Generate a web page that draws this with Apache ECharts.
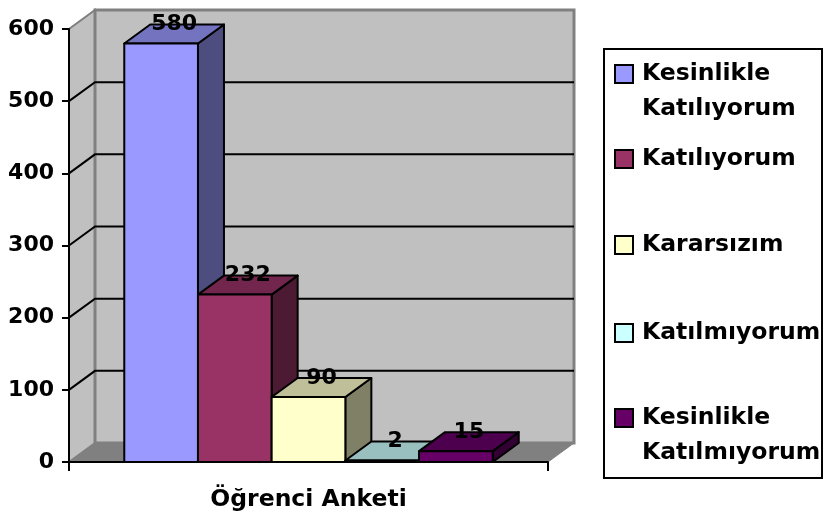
<!DOCTYPE html>
<html>
<head>
<meta charset="utf-8">
<script src="https://cdn.jsdelivr.net/npm/echarts@6/dist/echarts.min.js"></script>
<style>
html, body { margin: 0; background: #fff; }
#chart { width: 827px; height: 519px; }
</style>
</head>
<body>
<div id="chart"></div>
<script>
// data
var categories = ["Öğrenci Anketi"];
var seriesNames = ["Kesinlikle\nKatılıyorum", "Katılıyorum", "Kararsızım", "Katılmıyorum", "Kesinlikle\nKatılmıyorum"];
var seriesValues = [580, 232, 90, 2, 15];
var seriesColors = ["#9999ff", "#993366", "#ffffcc", "#ccffff", "#660066"];
var yTicks = [0, 100, 200, 300, 400, 500, 600];

// 3d depth offset of the walls and bars
var DX = 26, DY = -19;
var FONT = "DejaVu Sans";

function shade(hex, f) {
	var n = parseInt(hex.slice(1), 16);
	var r = Math.round(((n >> 16) & 255) * f), g = Math.round(((n >> 8) & 255) * f), b = Math.round((n & 255) * f);
	return "rgb(" + r + "," + g + "," + b + ")";
}

var renderWalls = function (params, api) {
	var c = api.coord([api.value(0), 0]);
	var t = api.coord([api.value(0), api.value(1)]);
	var half = api.size([1, 0])[0] / 2;
	var x0 = c[0] - half, x1 = c[0] + half, yb = c[1], yt = t[1];
	return {
		type: "group",
		children: [
			{ type: "polygon", shape: { points: [[x0, yb], [x1, yb], [x1 + DX, yb + DY], [x0 + DX, yb + DY]] },
				style: { fill: "#808080", stroke: "#808080", lineWidth: 1 } },
			{ type: "polygon", shape: { points: [[x0, yb], [x0, yt], [x0 + DX, yt + DY], [x0 + DX, yb + DY]] },
				style: { fill: "#c0c0c0", stroke: "#808080", lineWidth: 2 } },
			{ type: "rect", shape: { x: x0 + DX, y: yt + DY, width: x1 - x0, height: yb - yt },
				style: { fill: "#c0c0c0", stroke: "#808080", lineWidth: 3 } }
		]
	};
};

var renderGrid = function (params, api) {
	var p = api.coord([api.value(0), api.value(1)]);
	var half = api.size([1, 0])[0] / 2;
	var x0 = p[0] - half, x1 = p[0] + half, y = p[1];
	return {
		type: "polyline",
		shape: { points: [[x0, y], [x0 + DX, y + DY], [x1 + DX, y + DY]] },
		style: { stroke: "#000", lineWidth: 2, fill: null }
	};
};

var makeBar = function (i) {
	return function (params, api) {
		var base = api.coord([api.value(0), 0]);
		var top = api.coord([api.value(0), api.value(1)]);
		var band = api.size([1, 0])[0];
		var w = band / 6.5;
		var xl = base[0] - band / 2 + 0.75 * w + i * w, xr = xl + w;
		var yb = base[1], yt = top[1];
		var col = seriesColors[i];
		var line = { stroke: "#000", lineWidth: 2, lineJoin: "round" };
		return {
			type: "group",
			children: [
				{ type: "polygon", shape: { points: [[xr, yt], [xr + DX, yt + DY], [xr + DX, yb + DY], [xr, yb]] },
					style: Object.assign({ fill: shade(col, 0.5) }, line) },
				{ type: "polygon", shape: { points: [[xl, yt], [xr, yt], [xr + DX, yt + DY], [xl + DX, yt + DY]] },
					style: Object.assign({ fill: shade(col, 0.75) }, line) },
				{ type: "rect", shape: { x: xl, y: yt, width: w, height: yb - yt },
					style: Object.assign({ fill: col }, line) },
				{ type: "text", z2: 10, style: { text: String(api.value(1)), x: xl + w / 2 + DX / 2, y: yt + DY,
					align: "center", verticalAlign: "middle", fill: "#000",
					font: "bold 22px '" + FONT + "'" } }
			]
		};
	};
};

var legendCenters = [74, 159, 245, 333, 418];

var chart = echarts.init(document.getElementById("chart"));

var series = [
	{ type: "custom", name: "walls", silent: true, z: 1, data: [[0, yTicks[yTicks.length - 1]]], renderItem: renderWalls },
	{ type: "custom", name: "grid", silent: true, z: 1,
		data: yTicks.slice(1, -1).map(function (v) { return [0, v]; }), renderItem: renderGrid }
];
seriesNames.forEach(function (n, i) {
	series.push({ type: "custom", name: n, z: 3, itemStyle: { color: seriesColors[i] },
		data: [[0, seriesValues[i]]], renderItem: makeBar(i) });
});

var legends = seriesNames.map(function (n, i) {
	var twoLines = n.indexOf("\n") >= 0;
	return {
		data: [n], orient: "vertical", left: 614,
		top: legendCenters[i] - (twoLines ? 52.5 : 17.5),
		padding: 0, itemWidth: 18, itemHeight: 18, icon: "rect", selectedMode: false,
		itemStyle: { borderColor: "#000", borderWidth: 2 },
		formatter: function (name) { return twoLines ? " \n" + name : name; },
		textStyle: { fontFamily: FONT, fontWeight: "bold", fontSize: 23.5, color: "#000", lineHeight: 35, padding: [0, 0, 0, 4] }
	};
});

var option = {
	animation: false,
	grid: { left: 69, right: 279, top: 29, bottom: 57 },
	xAxis: {
		type: "category", data: categories, z: 5,
		axisLine: { lineStyle: { color: "#000", width: 2 } },
		axisTick: { show: true, length: 9, lineStyle: { color: "#000", width: 2 } },
		axisLabel: { margin: 26, color: "#000", fontFamily: FONT, fontWeight: "bold", fontSize: 23.5 }
	},
	yAxis: {
		type: "value", min: 0, max: 600, interval: 100, z: 5,
		axisLine: { show: true, lineStyle: { color: "#000", width: 2 } },
		axisTick: { show: true, length: 7, lineStyle: { color: "#000", width: 2 } },
		axisLabel: { margin: 15, color: "#000", fontFamily: FONT, fontWeight: "bold", fontSize: 22 },
		splitLine: { show: false }
	},
	legend: legends,
	graphic: [
		{ type: "rect", shape: { x: 604, y: 49, width: 218, height: 429 },
			style: { fill: null, stroke: "#000", lineWidth: 2 } }
	],
	series: series
};

chart.setOption(option);
</script>
</body>
</html>
